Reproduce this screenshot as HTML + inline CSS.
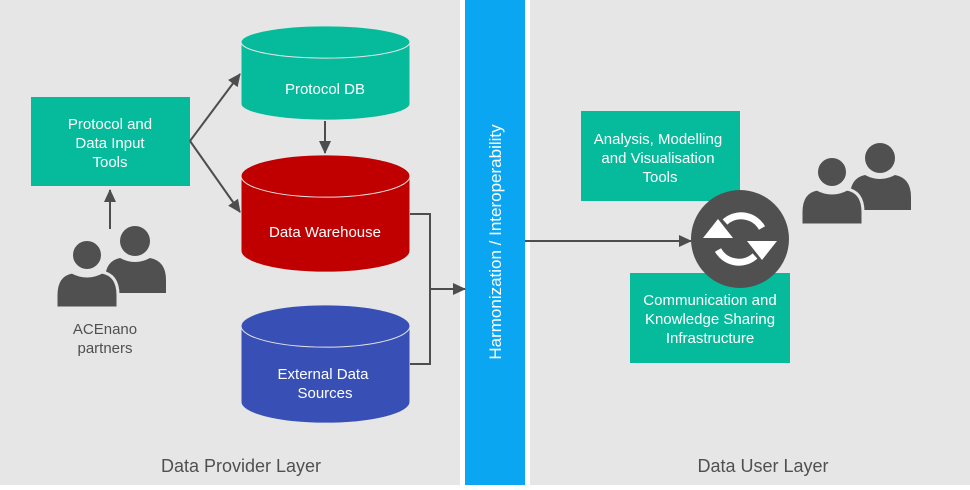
<!DOCTYPE html>
<html><head><style>
body{margin:0;width:970px;height:485px;overflow:hidden;background:#fff;font-family:"Liberation Sans",sans-serif}
</style></head><body>
<svg width="970" height="485" xmlns="http://www.w3.org/2000/svg" font-family="Liberation Sans, sans-serif">
<rect x="0" y="0" width="460" height="485" fill="#e6e6e6"/>
<rect x="465" y="0" width="60" height="485" fill="#0aa6f2"/>
<rect x="530" y="0" width="440" height="485" fill="#e6e6e6"/>
<defs>
<marker id="a" markerWidth="13" markerHeight="12" refX="12" refY="6" orient="auto" markerUnits="userSpaceOnUse"><path d="M0,0 L13,6 L0,12z" fill="#4d4d4d"/></marker>
<g id="ppl">
<circle cx="79" cy="-14" r="15" fill="#505050"/>
<path d="M49,38 L49,25 Q49,6 64,3 Q79,11 94,3 Q110,6 110,25 L110,38z" fill="#505050"/>
<path d="M0,53 L0,40 Q0,20 16,17 Q31,25 46,17 Q62,20 62,40 L62,53z" fill="#505050" stroke="#e6e6e6" stroke-width="3"/>
<circle cx="31" cy="0" r="15.5" fill="#505050" stroke="#e6e6e6" stroke-width="3"/>
</g>
</defs>
<g stroke="#e6e6e6" stroke-width="1">
<path d="M241,42 A84,16 0 0 1 410,42 L410,104 A84,16 0 0 1 241,104z" fill="#06bb9b"/>
<path d="M241,42 A84,16 0 0 0 410,42" fill="none"/>
<path d="M241,176 A84,21 0 0 1 410,176 L410,251 A84,21 0 0 1 241,251z" fill="#c00000"/>
<path d="M241,176 A84,21 0 0 0 410,176" fill="none"/>
<path d="M241,326 A84,21 0 0 1 410,326 L410,402 A84,21 0 0 1 241,402z" fill="#3850b6"/>
<path d="M241,326 A84,21 0 0 0 410,326" fill="none"/>
</g>
<g fill="#fff" font-size="15" text-anchor="middle">
<text x="325" y="94">Protocol DB</text>
<text x="325" y="237">Data Warehouse</text>
<text x="323" y="379">External Data</text>
<text x="325" y="398">Sources</text>
</g>
<rect x="31" y="97" width="159" height="89" fill="#06bb9b"/>
<g fill="#fff" font-size="15" text-anchor="middle">
<text x="110" y="129">Protocol and</text><text x="110" y="148">Data Input</text><text x="110" y="167">Tools</text>
</g>
<g stroke="#4d4d4d" stroke-width="2" fill="none">
<line x1="190" y1="141" x2="240" y2="74" marker-end="url(#a)"/>
<line x1="190" y1="141" x2="240" y2="212" marker-end="url(#a)"/>
<line x1="325" y1="121" x2="325" y2="153" marker-end="url(#a)"/>
<line x1="110" y1="229" x2="110" y2="190" marker-end="url(#a)"/>
<polyline points="410,214 430,214 430,364 410,364"/>
<line x1="430" y1="289" x2="465" y2="289" marker-end="url(#a)"/>
<line x1="525" y1="241" x2="691" y2="241" marker-end="url(#a)"/>
</g>
<use href="#ppl" x="56" y="255"/>
<use href="#ppl" x="801" y="172"/>
<g fill="#505050" font-size="15" text-anchor="middle">
<text x="105" y="334">ACEnano</text><text x="105" y="353">partners</text>
</g>
<text x="241" y="472" fill="#505050" font-size="18" text-anchor="middle">Data Provider Layer</text>
<text x="763" y="472" fill="#505050" font-size="18" text-anchor="middle">Data User Layer</text>
<text transform="translate(501,242) rotate(-90)" fill="#fff" font-size="17" text-anchor="middle">Harmonization / Interoperability</text>
<rect x="581" y="111" width="159" height="90" fill="#06bb9b"/>
<g fill="#fff" font-size="15" text-anchor="middle">
<text x="658" y="144">Analysis, Modelling</text><text x="658" y="163">and Visualisation</text><text x="660" y="182">Tools</text>
</g>
<rect x="630" y="273" width="160" height="90" fill="#06bb9b"/>
<g fill="#fff" font-size="15" text-anchor="middle">
<text x="710" y="305">Communication and</text><text x="710" y="324">Knowledge Sharing</text><text x="710" y="343">Infrastructure</text>
</g>
<circle cx="740" cy="239" r="49" fill="#505050"/>
<g fill="none" stroke="#fff" stroke-width="7">
<path d="M725,222 A24,24 0 0 1 762,228"/>
<path d="M755,256 A24,24 0 0 1 718,250"/>
</g>
<path d="M703,238 L733,238 L718,219z" fill="#fff"/>
<path d="M777,241 L747,241 L762,260z" fill="#fff"/>
</svg>
</body></html>
